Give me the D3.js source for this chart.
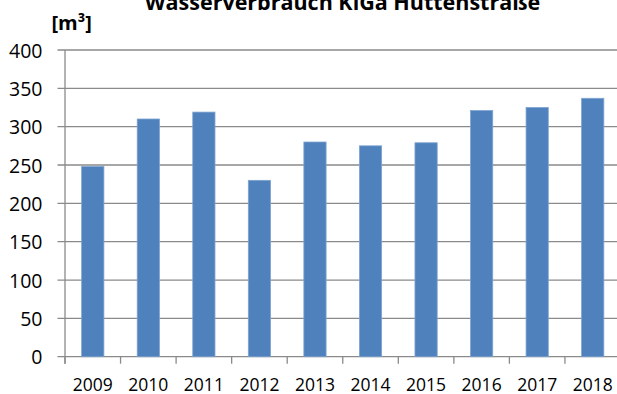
<!DOCTYPE html>
<html>
<head>
<meta charset="utf-8">
<script src="https://cdn.jsdelivr.net/npm/d3@7"></script>
<style>
  html, body { margin: 0; padding: 0; background: #fff; }
  svg { display: block; }
  text { font-family: "Open Sans", "Liberation Sans", sans-serif; fill: #000; }
</style>
</head>
<body>
<svg id="chart" width="617" height="394"></svg>
<script>
// Annual water consumption in m³
const years = ["2009", "2010", "2011", "2012", "2013", "2014", "2015", "2016", "2017", "2018"];
const consumption = [248, 310, 319, 230, 280, 275, 279, 321, 325, 337];
const yTicks = [0, 50, 100, 150, 200, 250, 300, 350, 400];
const title = "Wasserverbrauch KiGa Hüttenstraße";
const unitLabel = "[m³]";

const svg = d3.select("#chart");
const plot = { left: 65, right: 620.5, top: 50, bottom: 356.7 };

const x = d3.scaleBand().domain(years).range([plot.left, plot.right]).paddingInner(0.6).paddingOuter(0.3);
const xTickScale = d3.scaleBand().domain(years).range([plot.left, plot.right]);
const y = d3.scaleLinear().domain([0, 400]).range([plot.bottom, plot.top]);

const gridColor = "#8a8a8a";

// Horizontal gridlines with short ticks left of the axis
svg.append("g").selectAll("line").data(yTicks).join("line")
  .attr("x1", plot.left - 7.5).attr("x2", 617)
  .attr("y1", d => y(d)).attr("y2", d => y(d))
  .attr("stroke", gridColor).attr("stroke-width", 1.3);

// Y axis line
svg.append("line").attr("x1", plot.left).attr("x2", plot.left).attr("y1", plot.top).attr("y2", plot.bottom + 7)
  .attr("stroke", gridColor).attr("stroke-width", 1.3);

// X category tick marks at band boundaries
svg.append("g").selectAll("line").data(years).join("line")
  .attr("x1", d => xTickScale(d)).attr("x2", d => xTickScale(d))
  .attr("y1", plot.bottom).attr("y2", plot.bottom + 7)
  .attr("stroke", gridColor).attr("stroke-width", 1.3);

// Bars
svg.append("g").selectAll("rect").data(consumption).join("rect")
  .attr("x", (d, i) => x(years[i]))
  .attr("width", x.bandwidth())
  .attr("y", d => y(d))
  .attr("height", d => y(0) - y(d))
  .attr("fill", "#4f81bd")
  .attr("stroke", "#7da3d1").attr("stroke-width", 0.8);

// Y tick labels
svg.append("g").selectAll("text").data(yTicks).join("text")
  .attr("x", 42.5).attr("y", d => y(d) + 7.5)
  .attr("text-anchor", "end").attr("font-size", 19.5)
  .text(d => d);

// X tick labels
svg.append("g").selectAll("text").data(years).join("text")
  .attr("x", d => xTickScale(d) + xTickScale.bandwidth() / 2)
  .attr("y", 391)
  .attr("text-anchor", "middle").attr("font-size", 17.5)
  .text(d => d);

// Title and unit
svg.append("text").attr("x", 342.5).attr("y", 10).attr("text-anchor", "middle")
  .attr("font-size", 21.5).attr("font-weight", "bold").text(title);
svg.append("text").attr("x", 51.5).attr("y", 30)
  .attr("font-size", 20).attr("font-weight", "bold").text(unitLabel);
</script>
</body>
</html>
